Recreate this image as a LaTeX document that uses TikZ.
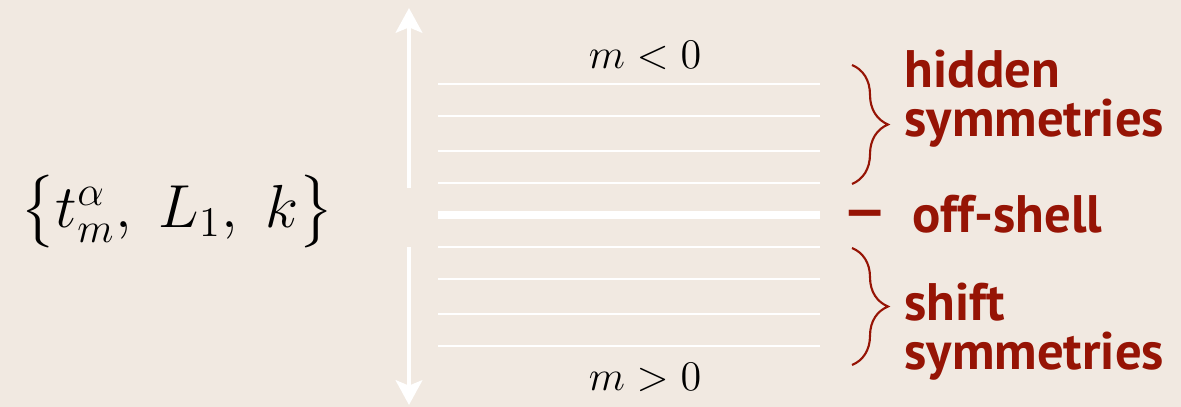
\documentclass[tikz,border=0pt]{standalone}
\usepackage{fontspec}
\setsansfont{PT Sans}
\usepackage{amsmath}
\usetikzlibrary{positioning, arrows.meta, decorations.pathreplacing}

\definecolor{paper}{RGB}{241,233,225}
\definecolor{symred}{RGB}{150,20,5}

\begin{document}
\begin{tikzpicture}[
  x=0.01cm, y=-0.01cm,
  level/.style={white, line width=0.65pt},
  offshell/.style={white, line width=2pt},
  axis/.style={white, line width=1.4pt,
               -{Stealth[length=7pt,width=7.5pt,inset=1.5pt]}},
  tag/.style={text=symred, inner sep=0pt, align=left,
              font=\sffamily\bfseries\fontsize{15}{14}\selectfont},
  sector/.style={font=\fontsize{13}{15}\selectfont},
  symbrace/.style={symred, line width=0.6pt, decorate,
                   decoration={brace, amplitude=0.36cm}}
]
  % background and frame
  \fill[paper] (0,0) rectangle (1181,407);
  \useasboundingbox (0,0) rectangle (1181,407);

  % generators
  \node (gens) at (177,212) {\LARGE$\bigl\{t^\alpha_m,\; L_1,\; k\bigr\}$};

  % vertical axis
  \coordinate (uptail) at (409,188);
  \coordinate (uptip)  at (409,8);
  \coordinate (dntail) at (409,247);
  \coordinate (dntip)  at (409,405);
  \draw[axis] (uptail) -- (uptip);
  \draw[axis] (dntail) -- (dntip);

  % levels
  \foreach \y in {84,116,151,183,247,279,314,346}
    \draw[level] (438,\y) -- (820,\y);
  \draw[offshell] (438,215) -- (820,215);

  \node[sector] (mneg) at (645,55)  {$m<0$};
  \node[sector] (mpos) at (645,377) {$m>0$};

  % braces and labels
  \draw[symbrace] (852,65) -- (852,184);
  \draw[symbrace] (852,248) -- (852,365);
  \node[tag, anchor=base west] (hidden) at (904,137) {hidden\\symmetries};
  \node[tag] (dash) at (865,219) {\textemdash};
  \node[tag, anchor=base west] (off) at (912,233) {off-shell};
  \node[tag, anchor=base west] (shift) at (904,370) {shift\\symmetries};
\end{tikzpicture}
\end{document}
